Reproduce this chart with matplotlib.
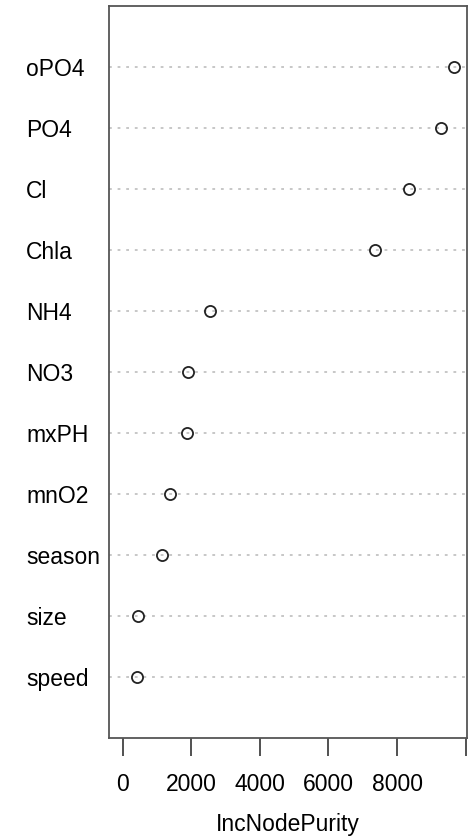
import matplotlib
matplotlib.use("Agg")
import matplotlib.pyplot as plt

plt.rcParams["font.family"] = ["Liberation Sans Narrow", "Liberation Sans", "DejaVu Sans"]
plt.rcParams["lines.scale_dashes"] = False

# variable importance (randomForest IncNodePurity), bottom to top
variables = ["speed", "size", "season", "mnO2", "mxPH", "NO3", "NH4",
             "Chla", "Cl", "PO4", "oPO4"]
purity = [408, 437, 1155, 1388, 1866, 1896, 2546, 7349, 8358, 9283, 9662]

xticks = [0, 2000, 4000, 6000, 8000, 10000]
xticklabels = ["0", "2000", "4000", "6000", "8000", ""]

W, H = 469, 838
FS = 16.5
fig = plt.figure(figsize=(W / 100, H / 100), dpi=100)
ax = fig.add_axes([109.3 / W, 1 - 738 / H, (467.3 - 109.3) / W, (738 - 6) / H])

ypos = list(range(1, len(variables) + 1))
for y in ypos:
    ax.axhline(y, color="#b8b8b8", lw=1.1, dashes=(2, 4.2), zorder=1)
ax.plot(purity, ypos, "o", ls="none", ms=8, mfc="none", mec="#222222",
        mew=1.3, zorder=3)

xmax = max(purity)
ax.set_xlim(-0.04 * xmax, 1.04 * xmax)
ax.set_ylim(0, len(variables) + 1)

ax.set_yticks(ypos, variables)
ax.tick_params(axis="y", length=0, pad=83.3 * 0.72, labelsize=FS)
for lab in ax.get_yticklabels():
    lab.set_ha("left")

ax.set_xticks(xticks, xticklabels)
ax.tick_params(axis="x", length=13, width=1.1, pad=12, labelsize=FS,
               color="#222222")

for s in ax.spines.values():
    s.set_color("#555555")
    s.set_linewidth(1.3)

ax.set_xlabel("IncNodePurity", fontsize=FS)
ax.xaxis.set_label_coords(0.5, -0.102)

plt.savefig("out.png", dpi=100)
